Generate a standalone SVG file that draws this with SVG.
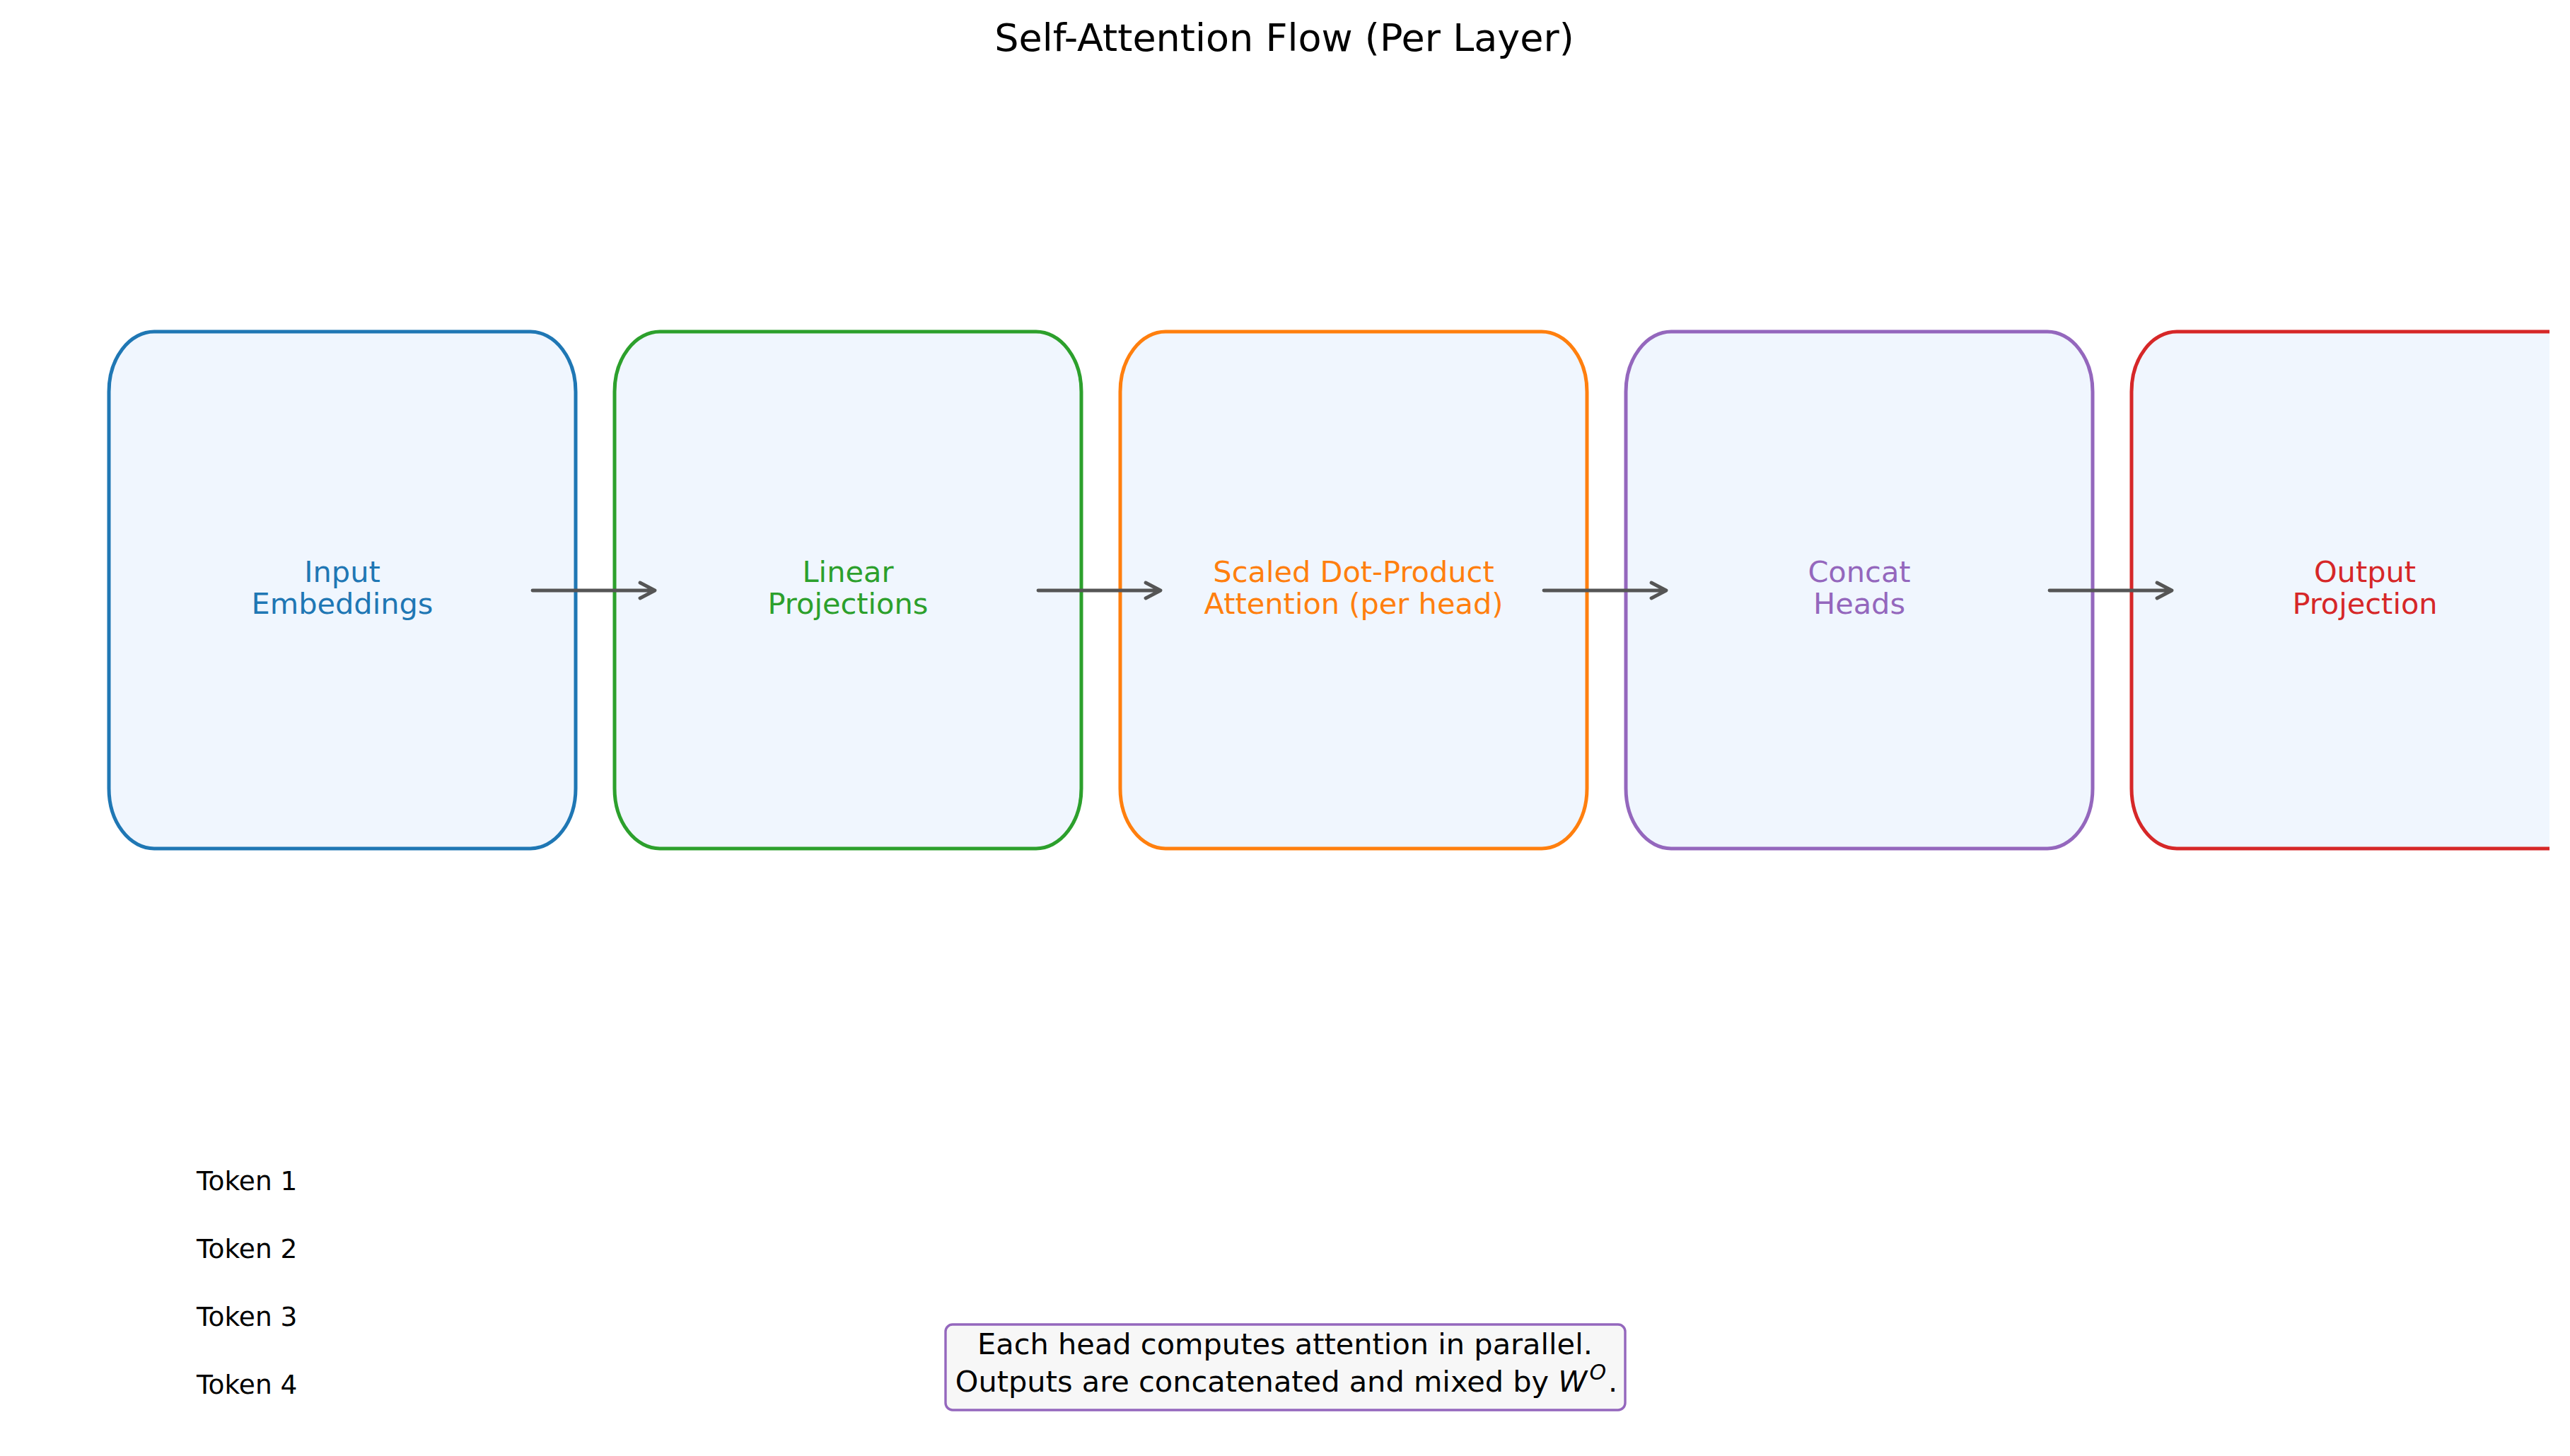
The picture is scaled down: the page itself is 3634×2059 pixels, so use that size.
<svg xmlns="http://www.w3.org/2000/svg" width="3634" height="2059" viewBox="0 0 3634 2059">
  <style>
    text { font-family: "DejaVu Sans", "Liberation Sans", sans-serif; }
    .box { fill: #f0f6fe; stroke-width: 5; }
    .lbl { font-size: 41.5px; text-anchor: middle; }
    .tok { font-size: 37.5px; fill: #000000; }
    .conn { stroke: #555555; stroke-width: 4.8; fill: none; stroke-linecap: round; stroke-linejoin: round; }
  </style>
  <defs>
    <clipPath id="axclip">
      <rect x="0" y="0" width="3605" height="2059"/>
    </clipPath>
  </defs>
  <rect x="0" y="0" width="3634" height="2059" fill="#ffffff"/>

  <text x="1816" y="72" font-size="54" text-anchor="middle" fill="#000000">Self-Attention Flow (Per Layer)</text>

  <g id="node-input">
    <rect class="box" x="154" y="469" width="660" height="731" rx="64" ry="85" stroke="#1f77b4"/>
    <text class="lbl" fill="#1f77b4"><tspan x="484" y="823">Input</tspan><tspan x="484" y="868">Embeddings</tspan></text>
  </g>
  <g id="node-linear">
    <rect class="box" x="869" y="469" width="660" height="731" rx="64" ry="85" stroke="#2ca02c"/>
    <text class="lbl" fill="#2ca02c"><tspan x="1199" y="823">Linear</tspan><tspan x="1199" y="868">Projections</tspan></text>
  </g>
  <g id="node-attention">
    <rect class="box" x="1584" y="469" width="660" height="731" rx="64" ry="85" stroke="#ff7f0e"/>
    <text class="lbl" fill="#ff7f0e"><tspan x="1914" y="823">Scaled Dot-Product</tspan><tspan x="1914" y="868">Attention (per head)</tspan></text>
  </g>
  <g id="node-concat">
    <rect class="box" x="2299" y="469" width="660" height="731" rx="64" ry="85" stroke="#9467bd"/>
    <text class="lbl" fill="#9467bd"><tspan x="2629" y="823">Concat</tspan><tspan x="2629" y="868">Heads</tspan></text>
  </g>
  <g id="node-output">
    <g clip-path="url(#axclip)">
      <rect class="box" x="3014" y="469" width="660" height="731" rx="64" ry="85" stroke="#d62728"/>
    </g>
    <text class="lbl" fill="#d62728"><tspan x="3344" y="823">Output</tspan><tspan x="3344" y="868">Projection</tspan></text>
  </g>

  <g id="connectors">
    <path class="conn" d="M753,835 H926 M905,824 L926,835 L905,846"/>
    <path class="conn" d="M1468,835 H1641 M1620,824 L1641,835 L1620,846"/>
    <path class="conn" d="M2183,835 H2356 M2335,824 L2356,835 L2335,846"/>
    <path class="conn" d="M2898,835 H3071 M3050,824 L3071,835 L3050,846"/>
  </g>

  <g id="tokens">
    <text class="tok" x="278" y="1683">Token 1</text>
    <text class="tok" x="278" y="1779">Token 2</text>
    <text class="tok" x="278" y="1875">Token 3</text>
    <text class="tok" x="278" y="1971">Token 4</text>
  </g>

  <g id="note">
    <rect x="1337" y="1873" width="961" height="121" rx="10" ry="10" fill="#f7f7f7" stroke="#9467bd" stroke-width="3.4"/>
    <text x="1817" y="1915" font-size="41.5" text-anchor="middle" fill="#000000">Each head computes attention in parallel.</text>
    <text x="1819" y="1968" font-size="41.5" text-anchor="middle" fill="#000000">Outputs are concatenated and mixed by <tspan font-style="italic">W</tspan><tspan font-style="italic" font-size="30" dx="3" dy="-17">O</tspan><tspan dx="3" dy="17">.</tspan></text>
  </g>
</svg>
